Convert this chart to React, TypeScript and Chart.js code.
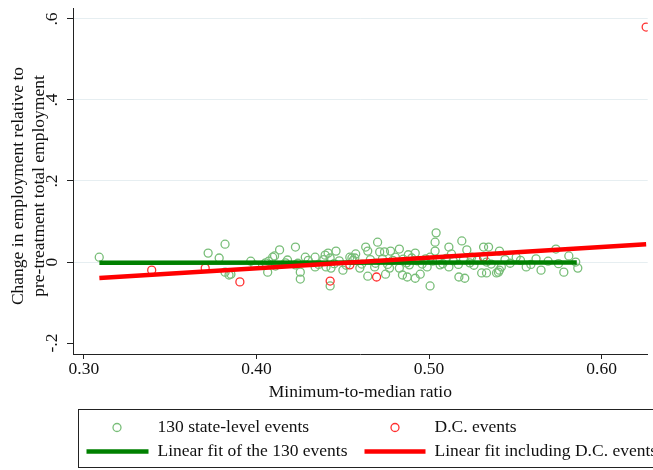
import React, { useEffect, useRef } from "react";
import { Chart, registerables } from "chart.js";

Chart.register(...registerables);

const FONT = "'Liberation Serif', 'Times New Roman', serif";
const FS = 17.5;

const stateX = [
  0.3089, 0.372, 0.3818, 0.3784, 0.3818, 0.3841, 0.3852, 0.3967, 0.4053, 0.4071,
  0.4094, 0.4105, 0.4134, 0.4065, 0.4168, 0.4226, 0.4283, 0.434, 0.4398, 0.4415,
  0.4461, 0.4427, 0.4541, 0.4553, 0.457, 0.4633, 0.4645, 0.4702, 0.4714, 0.4742,
  0.4226, 0.4254, 0.4254, 0.434, 0.4403, 0.4432, 0.4427, 0.4501, 0.4599, 0.4645,
  0.4685, 0.4748, 0.5041, 0.5035, 0.5035, 0.5006, 0.5115, 0.519, 0.5219, 0.5247,
  0.5316, 0.5316, 0.4777, 0.4828, 0.4805, 0.4771, 0.4828, 0.4846, 0.4874, 0.4886,
  0.492, 0.4949, 0.4989, 0.5064, 0.5115, 0.5173, 0.5207, 0.5236, 0.5305, 0.5006,
  0.5408, 0.5505, 0.5735, 0.581, 0.585, 0.5862, 0.5563, 0.5649, 0.5781, 0.5402,
  0.5408, 0.5419, 0.5391, 0.5333, 0.5345, 0.5333, 0.399, 0.411, 0.418, 0.424,
  0.43, 0.436, 0.439, 0.445, 0.448, 0.452, 0.456, 0.461, 0.466, 0.469,
  0.473, 0.476, 0.479, 0.485, 0.487, 0.49, 0.493, 0.496, 0.498, 0.502,
  0.505, 0.508, 0.51, 0.514, 0.517, 0.52, 0.526, 0.528, 0.536, 0.544,
  0.547, 0.553, 0.559, 0.562, 0.569, 0.575, 0.4575, 0.492, 0.488, 0.513,
];
const stateY = [
  0.012, 0.022, 0.044, 0.01, -0.025, -0.032, -0.03, 0.002, -0.002, 0.002,
  0.012, 0.015, 0.03, -0.025, -0.002, 0.037, 0.012, 0.012, 0.017, 0.022,
  0.027, 0.01, 0.012, 0.01, 0.01, 0.037, 0.027, 0.049, 0.025, 0.025,
  -0.007, -0.025, -0.042, -0.012, -0.012, -0.015, -0.059, -0.02, -0.015, -0.035,
  -0.012, -0.03, 0.072, 0.049, 0.027, 0.012, 0.037, 0.052, 0.03, 0.012,
  0.037, 0.012, 0.027, 0.032, 0.012, -0.015, -0.015, -0.032, -0.037, -0.007,
  -0.04, -0.03, -0.012, -0.007, -0.012, -0.037, -0.04, -0.002, -0.027, -0.059,
  0.027, 0.012, 0.032, 0.015, 0.0, -0.015, -0.012, -0.02, -0.025, -0.025,
  -0.02, -0.012, -0.027, -0.027, 0.037, 0.0, -0.008, -0.01, 0.005, -0.003,
  0.004, -0.006, 0.006, -0.004, 0.003, -0.008, 0.004, -0.005, 0.006, -0.003,
  0.008, -0.006, 0.004, 0.007, -0.002, 0.01, 0.003, -0.005, 0.008, 0.002,
  0.006, -0.004, 0.009, 0.003, -0.006, 0.007, -0.008, 0.005, -0.005, 0.006,
  -0.003, 0.004, -0.006, 0.008, 0.002, -0.004, 0.02, 0.022, 0.018, 0.02,
];

const dcX = [0.3393, 0.3703, 0.3904, 0.4427, 0.4541, 0.4696, 0.5316, 0.6258];
const dcY = [-0.02, -0.015, -0.049, -0.047, -0.007, -0.037, 0.012, 0.58];

const fitStateX = [0.309, 0.5856];
const fitStateY = [-0.002, -0.001];
const fitAllX = [0.309, 0.6258];
const fitAllY = [-0.0395, 0.0437];

const xTicks = [0.3, 0.4, 0.5, 0.6];
const xTickLabels = ["0.30", "0.40", "0.50", "0.60"];
const yTicks = [-0.2, 0, 0.2, 0.4, 0.6];
const yTickLabels = ["-.2", "0", ".2", ".4", ".6"];

const legendLabels = [
  "130 state-level events",
  "D.C. events",
  "Linear fit of the 130 events",
  "Linear fit including D.C. events",
];
const xTitle = "Minimum-to-median ratio";
const yTitle = ["Change in employment relative to", "pre-treatment total employment"];

const GREEN_PT = "#79be79";
const RED_PT = "#ff3030";
const GREEN_LINE = "#008000";
const RED_LINE = "#ff0000";
const INK = "#111111";

const overlayPlugin = {
  id: "overlay",
  afterDraw(chart: any) {
    const ctx = chart.ctx as CanvasRenderingContext2D;
    const area = chart.chartArea;
    const yScale = chart.scales.y;
    ctx.save();
    ctx.fillStyle = INK;
    ctx.font = `${FS}px ${FONT}`;
    ctx.textAlign = "center";
    ctx.textBaseline = "alphabetic";
    // y tick labels, rotated
    yTicks.forEach((v, i) => {
      const py = yScale.getPixelForValue(v);
      ctx.save();
      ctx.translate(area.left - 16, py);
      ctx.rotate(-Math.PI / 2);
      ctx.fillText(yTickLabels[i], 0, 0);
      ctx.restore();
    });
    // y title
    const cy = (area.top + area.bottom) / 2 + 5;
    yTitle.forEach((t, i) => {
      ctx.save();
      ctx.translate(23 + i * 21, cy);
      ctx.rotate(-Math.PI / 2);
      ctx.fillText(t, 0, 0);
      ctx.restore();
    });

    // legend
    const boxL = area.left + 5.5;
    const boxT = area.bottom + 55.5;
    const boxH = 58;
    ctx.strokeStyle = "#222";
    ctx.lineWidth = 1;
    ctx.strokeRect(boxL, boxT, 700, boxH);
    const row1 = boxT + 18;
    const row2 = boxT + 42;
    const col1Text = boxL + 79;
    const col2Text = boxL + 356;
    ctx.textAlign = "left";
    ctx.textBaseline = "middle";
    ctx.fillText(legendLabels[0], col1Text, row1);
    ctx.fillText(legendLabels[1], col2Text, row1);
    ctx.fillText(legendLabels[2], col1Text, row2);
    ctx.fillText(legendLabels[3], col2Text, row2);
    // markers
    ctx.lineWidth = 1.3;
    ctx.strokeStyle = GREEN_PT;
    ctx.beginPath();
    ctx.arc(boxL + 38.5, row1, 4, 0, Math.PI * 2);
    ctx.stroke();
    ctx.strokeStyle = RED_PT;
    ctx.beginPath();
    ctx.arc(boxL + 316.5, row1, 4, 0, Math.PI * 2);
    ctx.stroke();
    ctx.lineWidth = 4.5;
    ctx.strokeStyle = GREEN_LINE;
    ctx.beginPath();
    ctx.moveTo(boxL + 8, row2);
    ctx.lineTo(boxL + 70, row2);
    ctx.stroke();
    ctx.strokeStyle = RED_LINE;
    ctx.beginPath();
    ctx.moveTo(boxL + 286, row2);
    ctx.lineTo(boxL + 347, row2);
    ctx.stroke();
    ctx.restore();
  },
};

export default function App() {
  const ref = useRef<HTMLCanvasElement | null>(null);
  useEffect(() => {
    if (!ref.current) return;
    const chart = new Chart(ref.current, {
      type: "scatter",
      data: {
        datasets: [
          {
            label: legendLabels[2],
            data: fitStateX.map((x, i) => ({ x, y: fitStateY[i] })),
            showLine: true,
            borderColor: GREEN_LINE,
            borderWidth: 4.5,
            pointRadius: 0,
            borderCapStyle: "butt",
            order: 1,
          },
          {
            label: legendLabels[3],
            data: fitAllX.map((x, i) => ({ x, y: fitAllY[i] })),
            showLine: true,
            borderColor: RED_LINE,
            borderWidth: 4.5,
            pointRadius: 0,
            borderCapStyle: "butt",
            order: 0,
          },
          {
            label: legendLabels[0],
            data: stateX.map((x, i) => ({ x, y: stateY[i] })),
            pointRadius: 4,
            pointBorderWidth: 1.3,
            borderColor: GREEN_PT,
            backgroundColor: "rgba(0,0,0,0)",
            order: 3,
          },
          {
            label: legendLabels[1],
            data: dcX.map((x, i) => ({ x, y: dcY[i] })),
            pointRadius: 4,
            pointBorderWidth: 1.3,
            borderColor: RED_PT,
            backgroundColor: "rgba(0,0,0,0)",
            order: 2,
          },
        ],
      },
      options: {
        animation: false,
        responsive: false,
        maintainAspectRatio: false,
        layout: { padding: { left: 67, top: 8, right: 0, bottom: 67.5 } },
        plugins: { legend: { display: false }, tooltip: { enabled: false } },
        scales: {
          x: {
            type: "linear",
            min: 0.2937,
            max: 0.6267,
            afterBuildTicks: (s: any) => {
              s.ticks = xTicks.map((v) => ({ value: v }));
            },
            ticks: {
              callback: (_v: any, i: number) => xTickLabels[i],
              font: { family: FONT, size: FS },
              color: INK,
              padding: 0,
              maxRotation: 0,
              autoSkip: false,
            },
            grid: { drawOnChartArea: false, drawTicks: true, tickLength: 5, tickColor: "#222" },
            border: { color: "#222", width: 1 },
            title: {
              display: true,
              text: xTitle,
              font: { family: FONT, size: FS },
              color: INK,
              padding: { top: 1.5, bottom: 0 },
            },
          },
          y: {
            type: "linear",
            min: -0.227,
            max: 0.627,
            afterBuildTicks: (s: any) => {
              s.ticks = yTicks.map((v) => ({ value: v }));
            },
            ticks: { display: false },
            grid: {
              color: (c: any) => (c.tick && c.tick.value === -0.2 ? "rgba(0,0,0,0)" : "#e6eef1"),
              tickColor: "#222",
              tickLength: 6,
              drawTicks: true,
            },
            border: { color: "#222", width: 1 },
          },
        },
      },
      plugins: [overlayPlugin],
    } as any);
    return () => chart.destroy();
  }, []);
  return (
    <div style={{ position: "absolute", left: 0, top: 0, width: 653, height: 470, overflow: "hidden", background: "#fff" }}>
      <canvas ref={ref} width={653} height={470} style={{ width: 653, height: 470, display: "block" }} />
    </div>
  );
}
